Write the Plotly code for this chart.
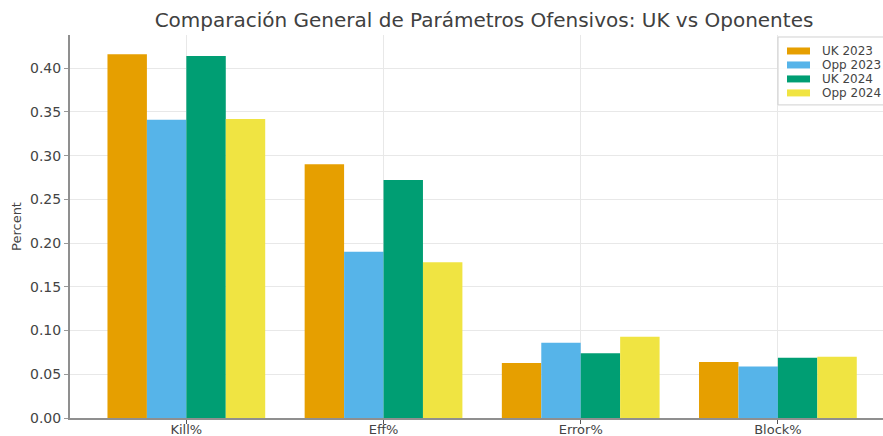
import plotly.graph_objects as go

categories = ["Kill%", "Eff%", "Error%", "Block%"]
series_names = ["UK 2023", "Opp 2023", "UK 2024", "Opp 2024"]
uk_2023 = [0.416, 0.290, 0.063, 0.064]
opp_2023 = [0.341, 0.190, 0.086, 0.059]
uk_2024 = [0.414, 0.272, 0.074, 0.069]
opp_2024 = [0.342, 0.178, 0.093, 0.070]
y_ticks = [0.00, 0.05, 0.10, 0.15, 0.20, 0.25, 0.30, 0.35, 0.40]

series_values = [uk_2023, opp_2023, uk_2024, opp_2024]
colors = ["#E69F00", "#56B4E9", "#009E73", "#F0E442"]

W, H = 883, 436
L, R, T, B = 70, 0, 35, 17.5

fig = go.Figure()
for name, vals, col in zip(series_names, series_values, colors):
    fig.add_trace(go.Bar(x=categories, y=vals, name=name, marker_color=col,
                         marker_line_width=0, showlegend=False))

font = "DejaVu Sans"
fig.update_layout(
    width=W, height=H,
    margin=dict(l=L, r=R, t=T, b=B, pad=0),
    paper_bgcolor="white", plot_bgcolor="white",
    barmode="group", bargap=0.2, bargroupgap=0,
    font=dict(family=font, color="#444444"),
    title=dict(text="Comparación General de Parámetros Ofensivos: UK vs Oponentes",
               x=484 / W, xanchor="center", xref="container",
               y=1 - 20 / H, yanchor="middle", yref="container",
               font=dict(family=font, size=20, color="#404040")),
    xaxis=dict(range=[-0.59, 3.533], showgrid=True, gridcolor="#e8e8e8", gridwidth=1,
               showline=True, linecolor="#8f8f8f", linewidth=2,
               ticks="outside", ticklen=4, tickcolor="#555555",
               ticklabelstandoff=-6, automargin=False,
               tickfont=dict(family=font, size=13, color="#444444"), zeroline=False),
    yaxis=dict(range=[0, 0.4379], tickvals=y_ticks, tickformat=".2f",
               showgrid=True, gridcolor="#e8e8e8", gridwidth=1,
               showline=True, linecolor="#8f8f8f", linewidth=2,
               ticks="outside", ticklen=4, tickcolor="#999999", automargin=False,
               tickfont=dict(family=font, size=14, color="#444444"), zeroline=False,
               title=dict(text="Percent", font=dict(family=font, size=13, color="#444444"),
                          standoff=5)),
)

# manual legend (matplotlib-style)
def px_x(p):
    return (p - L) / (W - L - R)

def px_y(p):
    return 1 - (p - T) / (H - T - B)

fig.add_shape(type="rect", xref="paper", yref="paper",
              x0=px_x(778), x1=px_x(900), y0=px_y(105), y1=px_y(37),
              line=dict(color="#d0d0d0", width=1), fillcolor="rgba(255,255,255,0.85)", layer="above")
row_y = [51, 65, 79, 93]
for name, col, ry in zip(series_names, colors, row_y):
    fig.add_shape(type="rect", xref="paper", yref="paper",
                  x0=px_x(787), x1=px_x(810), y0=px_y(ry + 3.5), y1=px_y(ry - 3.5),
                  line=dict(width=0), fillcolor=col, layer="above")
    fig.add_annotation(xref="paper", yref="paper", x=px_x(820), y=px_y(ry),
                       xanchor="left", yanchor="middle", text=name, showarrow=False,
                       font=dict(family=font, size=12, color="#444444"))

fig.write_html("out.html", config={"displayModeBar": False},
               post_script="document.body.style.margin='0';document.body.style.overflow='hidden';")
